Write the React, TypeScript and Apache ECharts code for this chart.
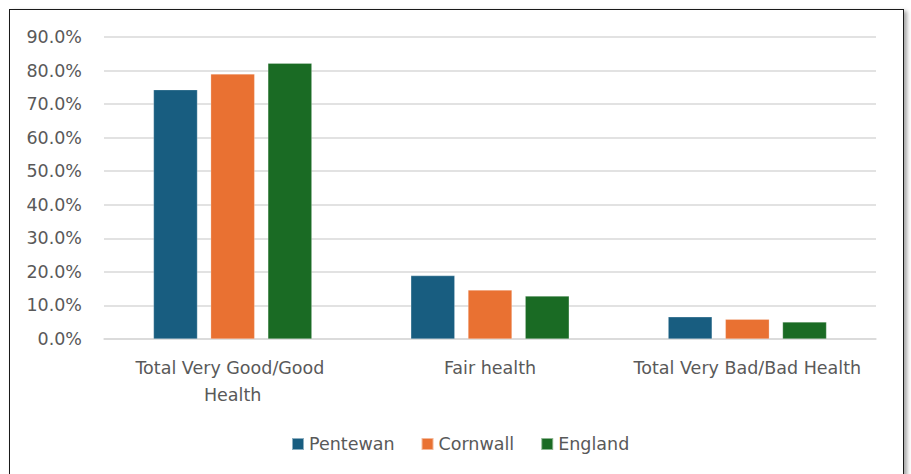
import React, { useEffect, useRef } from "react";
import * as echarts from "echarts";

const categories = ["Total Very Good/Good Health", "Fair health", "Total Very Bad/Bad Health"];
const pentewan = [74.3, 18.9, 6.6];
const cornwall = [79.0, 14.6, 5.9];
const england = [82.2, 12.8, 5.1];
const seriesNames = ["Pentewan", "Cornwall", "England"];
const colors = ["#185D80", "#E97132", "#1A6B24"];

const FONT = "'DejaVu Sans', sans-serif";

export default function App() {
  const ref = useRef<HTMLDivElement>(null);
  useEffect(() => {
    if (!ref.current) return;
    const chart = echarts.init(ref.current, undefined, { renderer: "svg" });
    const datas = [pentewan, cornwall, england];
    chart.setOption({
      animation: false,
      grid: { left: 104, right: 35, top: 37, bottom: 135, containLabel: false },
      legend: {
        data: seriesNames,
        bottom: 16,
        left: 286,
        icon: "rect",
        itemWidth: 12,
        itemHeight: 12,
        itemGap: 26,
        textStyle: { color: "#595959", fontSize: 17.5, fontFamily: FONT },
      },
      xAxis: {
        type: "category",
        data: categories,
        axisLine: { show: true, lineStyle: { color: "#D9D9D9", width: 1.5 } },
        axisTick: { show: false },
        axisLabel: {
          color: "#595959",
          fontSize: 17.5,
          fontFamily: FONT,
          margin: 15,
          width: 240,
          overflow: "break",
          lineHeight: 27,
          interval: 0,
        },
      },
      yAxis: {
        type: "value",
        min: 0,
        max: 90,
        interval: 10,
        axisLine: { show: false },
        axisTick: { show: false },
        splitLine: { lineStyle: { color: "#D9D9D9", width: 1.5 } },
        axisLabel: {
          color: "#595959",
          fontSize: 17.5,
          fontFamily: FONT,
          margin: 22,
          formatter: (v: number) => v.toFixed(1) + "%",
        },
      },
      series: seriesNames.map((name, i) => ({
        name,
        type: "bar",
        data: datas[i],
        barWidth: 44,
        barGap: "30%",
        itemStyle: { color: colors[i], borderColor: "rgba(255,255,255,0.5)", borderWidth: 0.5 },
      })),
    });
    return () => chart.dispose();
  }, []);
  return (
    <div style={{ position: "fixed", left: 0, top: 0, width: 911, height: 474, background: "#fff", overflow: "hidden" }}>
      <div
        style={{
          position: "absolute",
          left: 9,
          top: 9,
          width: 893,
          height: 490,
          border: "1.5px solid #1a1a1a",
          boxShadow: "3px 2px 4px rgba(0,0,0,0.35)",
          background: "#fff",
        }}
      />
      <div ref={ref} style={{ position: "absolute", left: 0, top: 0, width: 911, height: 474 }} />
    </div>
  );
}
